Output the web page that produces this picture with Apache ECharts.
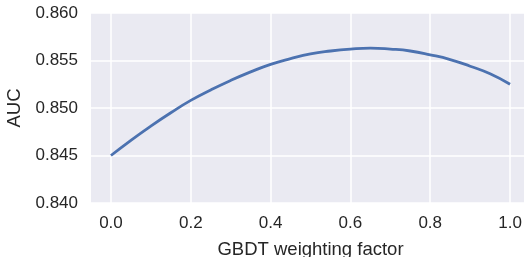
<!DOCTYPE html>
<html>
<head>
<meta charset="utf-8">
<script src="https://cdn.jsdelivr.net/npm/echarts@6/dist/echarts.min.js"></script>
<style>
html, body { margin: 0; padding: 0; background: #fff; }
#chart { width: 524px; height: 257px; }
</style>
</head>
<body>
<div id="chart"></div>
<script>
// gbdt weight vs auc
var weights = [0.00, 0.05, 0.10, 0.15, 0.20, 0.25, 0.30, 0.35, 0.40, 0.45, 0.50,
	0.55, 0.60, 0.65, 0.70, 0.75, 0.80, 0.85, 0.90, 0.95, 1.00];
var auc = [0.8450, 0.8466, 0.8481, 0.8495, 0.8508, 0.8519, 0.8529, 0.8538, 0.8546, 0.8552, 0.8557,
	0.8560, 0.8562, 0.8563, 0.8562, 0.8560, 0.8556, 0.8551, 0.8544, 0.8536, 0.8525];
var xTickValues = [0, 0.2, 0.4, 0.6, 0.8, 1.0];
var xTicks = ['0.0', '0.2', '0.4', '0.6', '0.8', '1.0'];

var points = [];
for (var i = 0; i < weights.length; i++) {
	points.push([weights[i], auc[i]]);
}

var font = 'Liberation Sans, Arial, sans-serif';
var textColor = '#262626';

var chart = echarts.init(document.getElementById('chart'));
chart.setOption({
	animation: false,
	grid: {
		left: 91,
		top: 13,
		width: 439,
		height: 190,
		outerBoundsMode: 'none',
		containLabel: false,
		show: true,
		backgroundColor: '#eaeaf2',
		borderWidth: 0
	},
	xAxis: {
		type: 'value',
		min: -0.05,
		max: 1.05,
		name: 'GBDT weighting factor',
		nameLocation: 'middle',
		nameGap: 37,
		nameTextStyle: { fontFamily: font, fontSize: 18.5, color: textColor },
		axisLine: { show: false },
		axisTick: { show: false },
		axisLabel: {
			fontFamily: font, fontSize: 17, color: textColor, margin: 12,
			customValues: xTickValues,
			formatter: function (v) {
				return xTicks[Math.round(v / 0.2)];
			}
		},
		splitLine: { show: false }
	},
	yAxis: {
		type: 'value',
		min: 0.840,
		max: 0.860,
		interval: 0.005,
		name: 'AUC',
		nameLocation: 'middle',
		nameGap: 64,
		nameTextStyle: { fontFamily: font, fontSize: 18.5, color: textColor },
		axisLine: { show: false },
		axisTick: { show: false },
		axisLabel: {
			fontFamily: font, fontSize: 17, color: textColor, margin: 13,
			formatter: function (v) { return v.toFixed(3); }
		},
		splitLine: { show: true, lineStyle: { color: '#ffffff', width: 1.5 } }
	},
	series: [
		{
			// vertical grid lines at the x ticks
			type: 'line',
			data: [],
			silent: true,
			z: 1,
			markLine: {
				z: 1,
				symbol: 'none',
				silent: true,
				label: { show: false },
				lineStyle: { color: '#ffffff', width: 1.5, type: 'solid' },
				data: xTickValues.map(function (v) { return { xAxis: v }; })
			}
		},
		{
			type: 'line',
			data: points,
			smooth: 0.5,
			showSymbol: false,
			lineStyle: { color: '#4c72b0', width: 2.8 },
			z: 10
		}
	]
});
</script>
</body>
</html>
